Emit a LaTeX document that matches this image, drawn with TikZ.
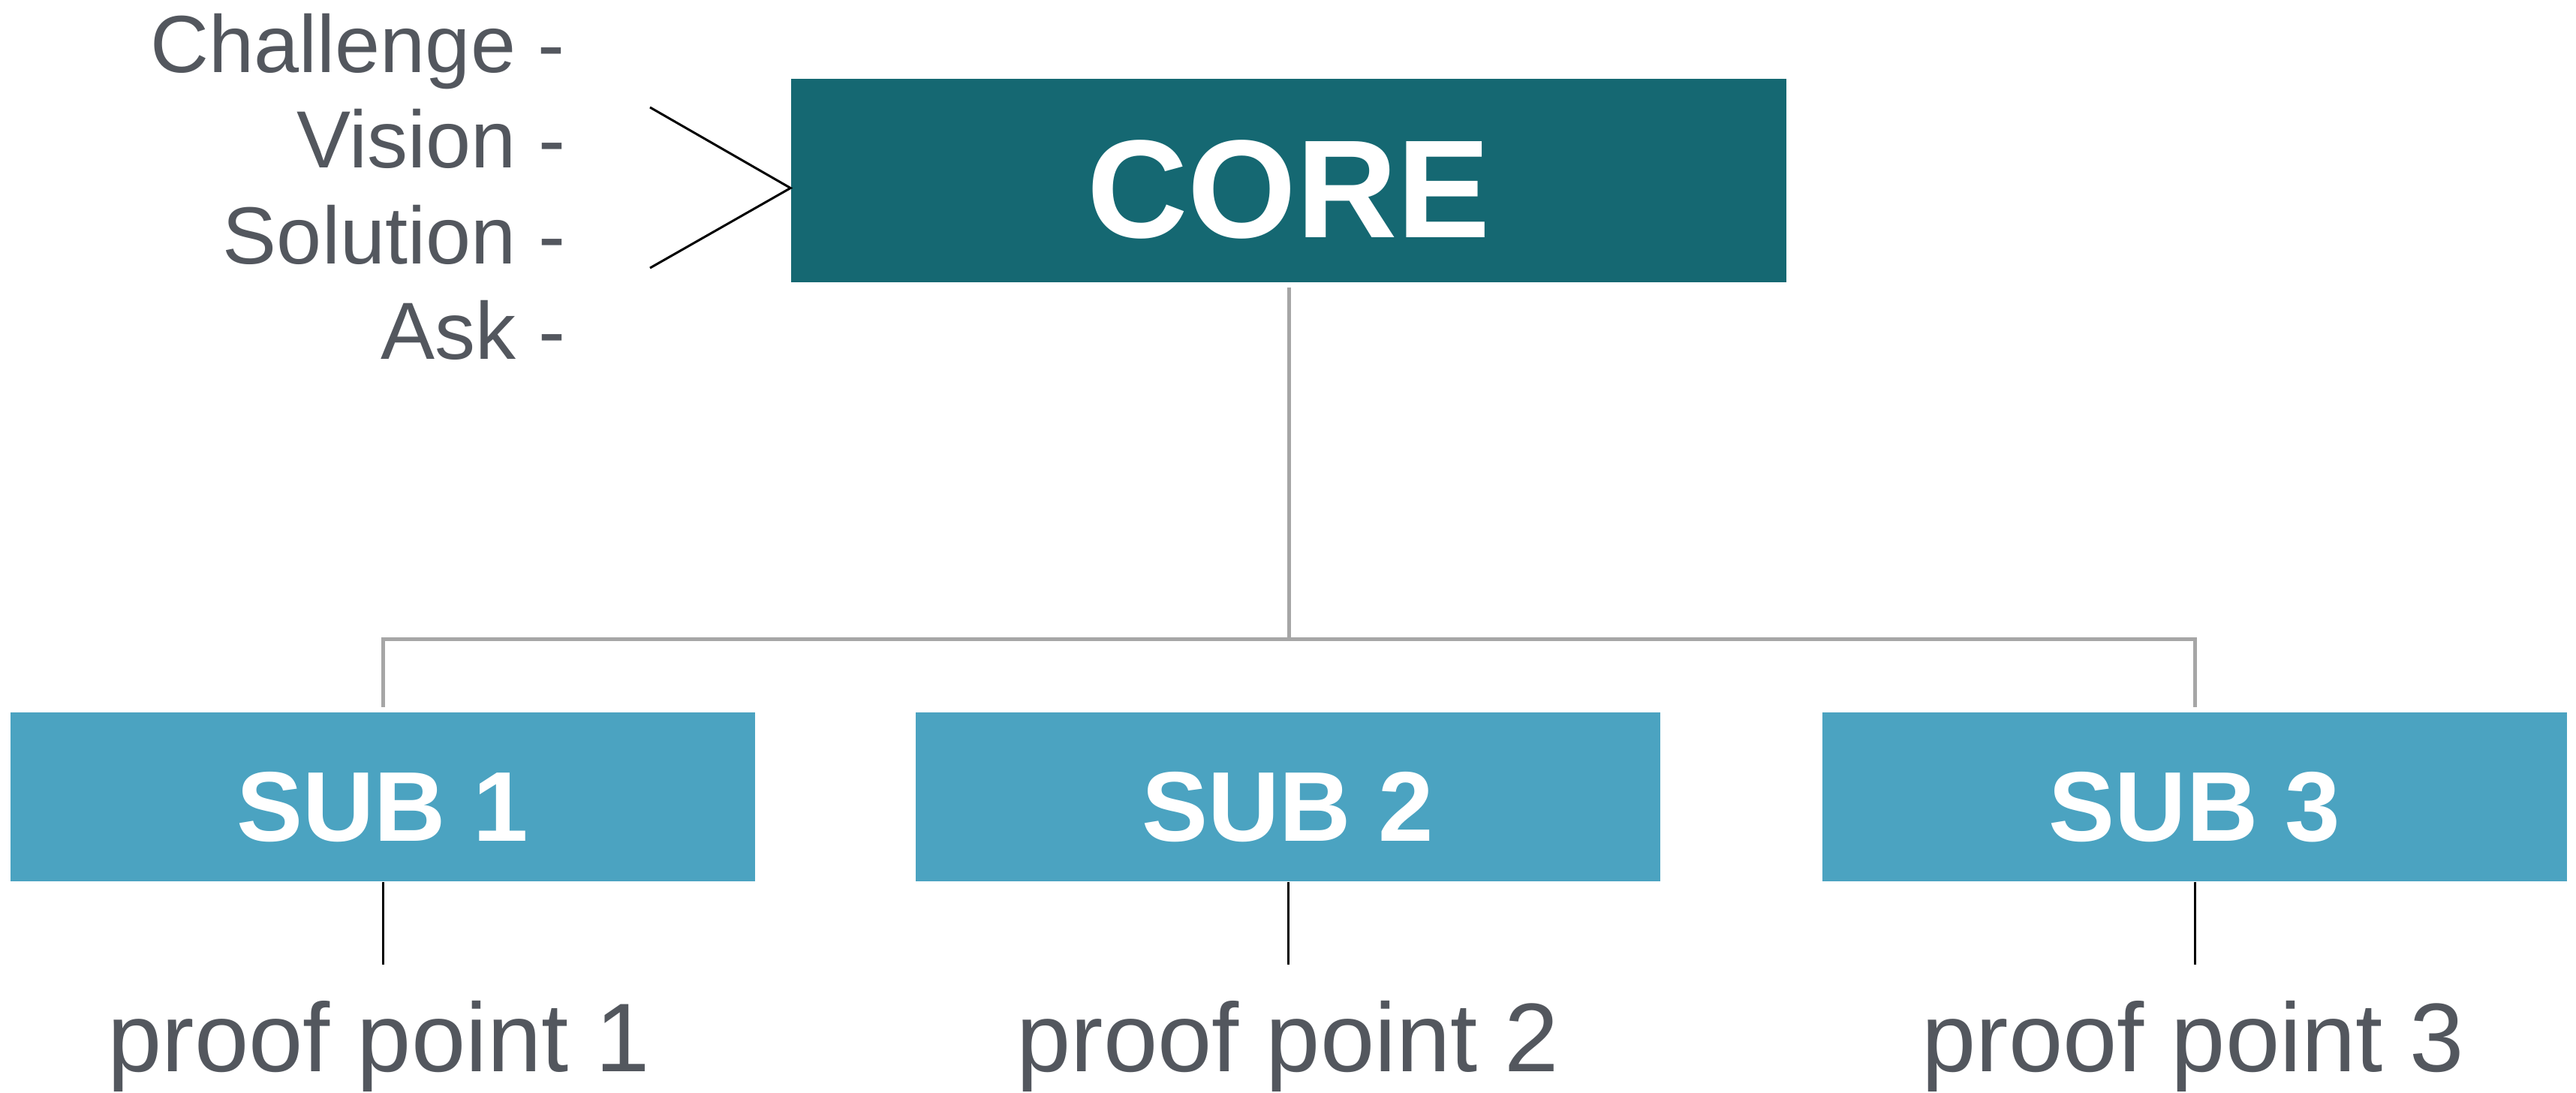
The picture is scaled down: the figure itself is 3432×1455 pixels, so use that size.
\documentclass[tikz,border=0pt]{standalone}
\usepackage{fontspec}
\setmainfont{Liberation Sans}
\definecolor{coreteal}{HTML}{156872}
\definecolor{subblue}{HTML}{4BA3C1}
\definecolor{txtgray}{HTML}{53575E}
\definecolor{linegray}{HTML}{A6A6A6}
\begin{document}
\begin{tikzpicture}[x=0.25pt,y=-0.25pt,
  corebox/.style={fill=coreteal,draw=none,inner sep=0pt,minimum width=331.5pt,minimum height=67.75pt,
    text=white,font=\fontsize{46.5}{46.5}\selectfont\bfseries,text height=38pt,text depth=0pt},
  subbox/.style={fill=subblue,draw=none,inner sep=0pt,minimum width=248pt,minimum height=56.25pt,
    text=white,font=\fontsize{33}{33}\selectfont\bfseries,text height=29.25pt,text depth=0pt},
  sidelabel/.style={anchor=base east,inner sep=0pt,text=txtgray,font=\fontsize{27}{27}\selectfont},
  prooflabel/.style={anchor=base,inner sep=0pt,text=txtgray,font=\fontsize{32.5}{32.5}\selectfont},
  grayline/.style={draw=linegray,line width=1.25pt},
  blackline/.style={draw=black,line width=0.75pt}]
\useasboundingbox (0,0) rectangle (3432,1455);

% boxes
\node[corebox] (core) at (1717,240.5) {CORE};
\node[subbox] (sub1) at (510,1061.5) {SUB 1};
\node[subbox] (sub2) at (1716,1061.5) {SUB 2};
\node[subbox] (sub3) at (2924,1061.5) {SUB 3};

% side labels
\node[sidelabel] (lchal) at (754,97) {Challenge -};
\node[sidelabel] (lvis) at (754,224) {Vision -};
\node[sidelabel] (lsol) at (754,351) {Solution -};
\node[sidelabel] (lask) at (754,478) {Ask -};

% proof points
\node[prooflabel] (pp1) at (505,1427) {proof point 1};
\node[prooflabel] (pp2) at (1716,1427) {proof point 2};
\node[prooflabel] (pp3) at (2922,1427) {proof point 3};

% coordinates
\coordinate (hub) at (1717,851);
\coordinate (v1) at (866,143);
\coordinate (v2) at (866,357);
\coordinate (e1) at (510,1285);
\coordinate (e2) at (1716,1285);
\coordinate (e3) at (2924,1285);

% gray tree connectors
\draw[grayline,shorten <=1.5pt] (core.south) -- (hub);
\draw[grayline] ([yshift=1.5pt]sub1.north) |- (hub) -| ([yshift=1.5pt]sub3.north);

% black connectors
\draw[blackline] (sub1.south) -- (e1);
\draw[blackline] (sub2.south) -- (e2);
\draw[blackline] (sub3.south) -- (e3);
\draw[blackline] (v1) -- ([yshift=-2.5pt]core.west) -- (v2);
\end{tikzpicture}
\end{document}
